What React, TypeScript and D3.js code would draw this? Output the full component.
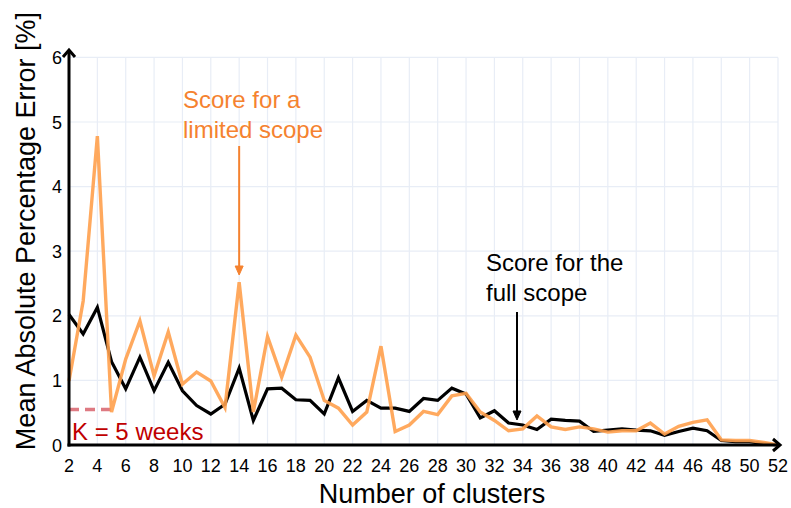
import * as d3 from 'd3';

const clusters = [2, 3, 4, 5, 6, 7, 8, 9, 10, 11, 12, 13, 14, 15, 16, 17, 18, 19, 20, 21, 22, 23, 24, 25, 26, 27, 28, 29, 30, 31, 32, 33, 34, 35, 36, 37, 38, 39, 40, 41, 42, 43, 44, 45, 46, 47, 48, 49, 50, 51, 52];

// black line: score for the full scope
const fullScope = [2.02, 1.72, 2.13, 1.29, 0.87, 1.36, 0.84, 1.28, 0.84, 0.61, 0.48, 0.63, 1.19, 0.38, 0.87, 0.88, 0.70, 0.69, 0.48, 1.04, 0.52, 0.69, 0.57, 0.57, 0.52, 0.72, 0.69, 0.88, 0.79, 0.42, 0.53, 0.34, 0.31, 0.24, 0.40, 0.38, 0.37, 0.21, 0.23, 0.25, 0.23, 0.22, 0.15, 0.21, 0.26, 0.22, 0.07, 0.05, 0.05, 0.02, 0.0];

// orange line: score for a limited scope
const limitedScope = [0.99, 2.23, 4.78, 0.51, 1.33, 1.92, 1.07, 1.75, 0.94, 1.13, 0.99, 0.58, 2.52, 0.51, 1.68, 1.05, 1.70, 1.36, 0.69, 0.57, 0.31, 0.51, 1.53, 0.21, 0.31, 0.52, 0.47, 0.76, 0.80, 0.51, 0.38, 0.22, 0.25, 0.45, 0.28, 0.24, 0.28, 0.25, 0.20, 0.22, 0.22, 0.34, 0.17, 0.29, 0.35, 0.39, 0.08, 0.07, 0.07, 0.04, 0.0];

const xTicks = [2, 4, 6, 8, 10, 12, 14, 16, 18, 20, 22, 24, 26, 28, 30, 32, 34, 36, 38, 40, 42, 44, 46, 48, 50, 52];
const yTicks = [0, 1, 2, 3, 4, 5, 6];

const kWeeks = { k: 5, level: 0.55 };

const W = 791;
const H = 508;
const font = '"Liberation Sans", Arial, sans-serif';
const orangeLine = '#ffa04d';
const orangeText = '#f5822f';

export default function App() {
  const x = d3.scaleLinear().domain([2, 52]).range([69, 778]);
  const y = d3.scaleLinear().domain([0, 6]).range([445, 57.4]);

  const line = d3.line<number>()
    .x((_, i) => x(clusters[i]))
    .y(d => y(d));

  const top = y(6);
  const bottom = y(0);

  return (
    <svg width={W} height={H} style={{ position: 'fixed', left: 0, top: 0, background: '#fff' }} fontFamily={font}>
      {/* grid */}
      {yTicks.filter(t => t > 0).map(t => (
        <line key={'gy' + t} x1={x(2)} x2={x(52)} y1={y(t)} y2={y(t)} stroke="#e8edf6" strokeWidth={1.2} />
      ))}
      {xTicks.filter(t => t > 2).map(t => (
        <line key={'gx' + t} x1={x(t)} x2={x(t)} y1={top} y2={bottom} stroke="#e8edf6" strokeWidth={1.2} />
      ))}

      {/* K = 5 weeks marker */}
      <line x1={x(2)} x2={x(kWeeks.k)} y1={y(kWeeks.level)} y2={y(kWeeks.level)}
        stroke="#de7a82" strokeWidth={3.5} strokeDasharray="10 6" />

      {/* series */}
      <path d={line(fullScope) || ''} fill="none" stroke="#000" strokeWidth={3.2} />
      <path d={line(limitedScope) || ''} fill="none" stroke={orangeLine} strokeWidth={3.4} strokeOpacity={0.9} />

      {/* axes */}
      <line x1={x(2)} x2={x(2)} y1={bottom + 1.5} y2={50} stroke="#000" strokeWidth={3} />
      <path d={`M${x(2) - 6},${57} L${x(2)},${50} L${x(2) + 6},${57}`} fill="none" stroke="#000" strokeWidth={3} />
      <line x1={x(2) - 1.5} x2={780} y1={bottom} y2={bottom} stroke="#000" strokeWidth={3} />
      <path d={`M${773},${bottom - 6} L${780},${bottom} L${773},${bottom + 6}`} fill="none" stroke="#000" strokeWidth={3} />

      {/* tick labels */}
      {xTicks.map(t => (
        <text key={'tx' + t} x={x(t)} y={472} textAnchor="middle" fontSize={18} fill="#000">{t}</text>
      ))}
      {yTicks.map(t => (
        <text key={'ty' + t} x={62} y={y(t) + 6.5} textAnchor="end" fontSize={18} fill="#000">{t}</text>
      ))}

      {/* axis titles */}
      <text x={432} y={503} textAnchor="middle" fontSize={27} fill="#000">Number of clusters</text>
      <text transform={`translate(35, 231) rotate(-90)`} textAnchor="middle" fontSize={27} fill="#000">
        Mean Absolute Percentage Error [%]
      </text>

      {/* annotations */}
      <text x={x(2) + 3} y={y(0) - 5} fontSize={24} fill="#c00000">K = 5 weeks</text>

      <text x={183} y={108} fontSize={24} fill={orangeText}>Score for a</text>
      <text x={183} y={138} fontSize={24} fill={orangeText}>limited scope</text>
      <line x1={x(14)} x2={x(14)} y1={146} y2={268} stroke={orangeText} strokeWidth={2} />
      <path d={`M${x(14) - 4},${266} L${x(14)},${275} L${x(14) + 4},${266} Z`} fill={orangeText} stroke={orangeText} strokeWidth={1} />

      <text x={486} y={271} fontSize={24} fill="#000">Score for the</text>
      <text x={486} y={301} fontSize={24} fill="#000">full scope</text>
      <line x1={517} x2={517} y1={312} y2={413} stroke="#000" strokeWidth={2} />
      <path d={`M${513},${411} L${517},${420} L${521},${411} Z`} fill="#000" stroke="#000" strokeWidth={1} />
    </svg>
  );
}
